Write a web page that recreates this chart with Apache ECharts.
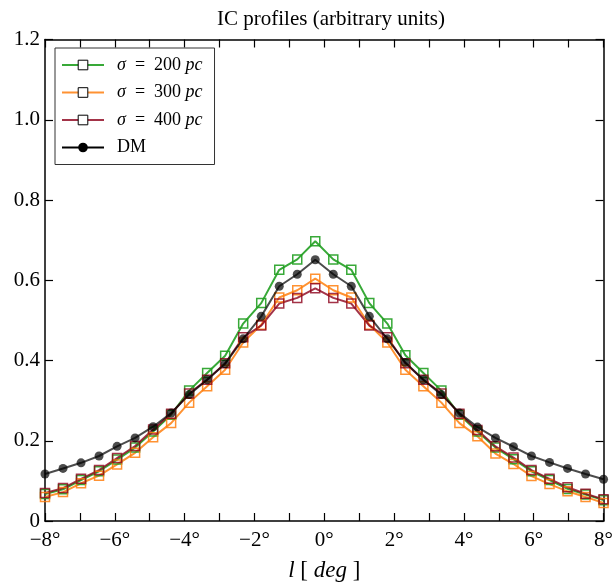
<!DOCTYPE html>
<html>
<head>
<meta charset="utf-8">
<script src="https://cdn.jsdelivr.net/npm/echarts@6/dist/echarts.min.js"></script>
<style>
  html, body { margin: 0; padding: 0; background: #fff; }
  #chart { width: 616px; height: 587px; }
</style>
</head>
<body>
<div id="chart"></div>
<script>
// Galactic longitude samples (degrees)
const longitudes = [-8.000, -7.484, -6.968, -6.452, -5.935, -5.419, -4.903, -4.387,
  -3.871, -3.355, -2.839, -2.323, -1.806, -1.290, -0.774, -0.258,
  0.258, 0.774, 1.290, 1.806, 2.323, 2.839, 3.355, 3.871,
  4.387, 4.903, 5.419, 5.935, 6.452, 6.968, 7.484, 8.000];

// IC profiles for three source-distribution widths
const sigma200 = [0.067, 0.079, 0.102, 0.124, 0.153, 0.183, 0.223, 0.265,
  0.325, 0.369, 0.412, 0.492, 0.543, 0.626, 0.652, 0.697,
  0.652, 0.626, 0.543, 0.492, 0.413, 0.369, 0.325, 0.265,
  0.223, 0.183, 0.154, 0.124, 0.102, 0.080, 0.066, 0.052];
const sigma300 = [0.060, 0.072, 0.094, 0.113, 0.141, 0.170, 0.209, 0.244,
  0.295, 0.336, 0.377, 0.445, 0.489, 0.557, 0.575, 0.604,
  0.575, 0.557, 0.489, 0.445, 0.377, 0.336, 0.295, 0.244,
  0.211, 0.168, 0.142, 0.112, 0.092, 0.074, 0.060, 0.045];
const sigma400 = [0.070, 0.082, 0.105, 0.127, 0.157, 0.187, 0.228, 0.267,
  0.318, 0.352, 0.393, 0.458, 0.487, 0.542, 0.556, 0.580,
  0.556, 0.542, 0.487, 0.458, 0.393, 0.352, 0.318, 0.267,
  0.227, 0.186, 0.158, 0.127, 0.105, 0.084, 0.068, 0.054];
const dmProfile = [0.117, 0.131, 0.145, 0.162, 0.186, 0.207, 0.235, 0.269,
  0.315, 0.352, 0.392, 0.454, 0.510, 0.585, 0.615, 0.651,
  0.615, 0.585, 0.510, 0.454, 0.395, 0.352, 0.315, 0.269,
  0.234, 0.207, 0.185, 0.162, 0.146, 0.131, 0.117, 0.104];

const legendLabels = {
  sigma200: '{i|σ}  =  200 {i|pc}',
  sigma300: '{i|σ}  =  300 {i|pc}',
  sigma400: '{i|σ}  =  400 {i|pc}',
  DM: 'DM'
};
const colors = {
  sigma200: 'rgba(34,160,34,0.9)',
  sigma300: 'rgba(255,127,14,0.85)',
  sigma400: 'rgba(140,0,26,0.8)',
  DM: 'rgba(0,0,0,0.7)'
};

const FONT = 'Liberation Serif';

function pairs(ys) { return longitudes.map((x, i) => [x, ys[i]]); }

function squareSeries(name, ys) {
  return {
    name: name, type: 'line', data: pairs(ys),
    symbol: 'rect', symbolSize: 9,
    lineStyle: { color: colors[name], width: 2 },
    itemStyle: { color: 'rgba(255,255,255,0)', borderColor: colors[name], borderWidth: 1.5 },
    emphasis: { disabled: true }, z: 3
  };
}

const chart = echarts.init(document.getElementById('chart'), null, { renderer: 'canvas' });

const axisCommon = {
  axisLine: { show: true, onZero: false, lineStyle: { color: '#000', width: 1.5 } },
  splitLine: { show: false },
  axisTick: { show: true, inside: true, length: 8, lineStyle: { color: '#000', width: 1.2 } }
};

const legendMarker = { color: '#fff', borderColor: '#000', borderWidth: 1 };

chart.setOption({
  animation: false,
  textStyle: { fontFamily: FONT },
  title: {
    text: 'IC profiles (arbitrary units)',
    left: 326, top: 4, textAlign: 'center',
    textStyle: { fontFamily: FONT, fontSize: 21, fontWeight: 'normal', color: '#000' }
  },
  grid: { left: 45, right: 8.5, top: 39.5, bottom: 58.5, containLabel: false },
  legend: {
    orient: 'vertical', left: 55, top: 48,
    padding: [8, 12, 8, 6],
    borderColor: '#333', borderWidth: 1, borderRadius: 0,
    backgroundColor: '#fff',
    itemWidth: 42, itemHeight: 12, itemGap: 9.5,
    data: [
      { name: 'sigma200', itemStyle: legendMarker, lineStyle: { color: colors.sigma200, width: 2 } },
      { name: 'sigma300', itemStyle: legendMarker, lineStyle: { color: colors.sigma300, width: 2 } },
      { name: 'sigma400', itemStyle: legendMarker, lineStyle: { color: colors.sigma400, width: 2 } },
      { name: 'DM', itemStyle: { color: '#000', borderColor: '#000' }, lineStyle: { color: '#000', width: 2 } }
    ],
    formatter: function (name) { return legendLabels[name]; },
    textStyle: {
      fontFamily: FONT, fontSize: 18, color: '#000', padding: [0, 0, 0, 8],
      rich: { i: { fontFamily: FONT, fontStyle: 'italic', fontSize: 18 } }
    },
    selectedMode: false
  },
  xAxis: [
    Object.assign({
      type: 'value', min: -8, max: 8, interval: 1, position: 'bottom',
      axisLabel: {
        show: true, margin: 9, color: '#000', fontFamily: FONT, fontSize: 21,
        formatter: function (v) {
          if (Math.round(v) % 2 !== 0) return '';
          return (v < 0 ? '\u2212' + Math.abs(v) : String(v)) + '°';
        }
      },
      name: '{i|l} [ {i|deg} ]', nameLocation: 'middle', nameGap: 38,
      nameTextStyle: { fontFamily: FONT, fontSize: 23, color: '#000',
        rich: { i: { fontFamily: FONT, fontStyle: 'italic', fontSize: 23 } } }
    }, axisCommon),
    Object.assign({
      type: 'value', min: -8, max: 8, interval: 1, position: 'top',
      axisLabel: { show: false }
    }, axisCommon)
  ],
  yAxis: [
    Object.assign({
      type: 'value', min: 0, max: 1.2, interval: 0.2, position: 'left',
      axisLabel: {
        show: true, margin: 5, color: '#000', fontFamily: FONT, fontSize: 21,
        formatter: function (v) { return v === 0 ? '0' : v.toFixed(1); }
      }
    }, axisCommon),
    Object.assign({
      type: 'value', min: 0, max: 1.2, interval: 0.2, position: 'right',
      axisLabel: { show: false }
    }, axisCommon)
  ],
  series: [
    squareSeries('sigma200', sigma200),
    squareSeries('sigma300', sigma300),
    squareSeries('sigma400', sigma400),
    {
      name: 'DM', type: 'line', data: pairs(dmProfile),
      symbol: 'circle', symbolSize: 9,
      lineStyle: { color: 'rgba(0,0,0,0.7)', width: 2 },
      itemStyle: { color: 'rgba(0,0,0,0.7)', borderWidth: 0 },
      emphasis: { disabled: true }, z: 4
    }
  ]
});
</script>
</body>
</html>
